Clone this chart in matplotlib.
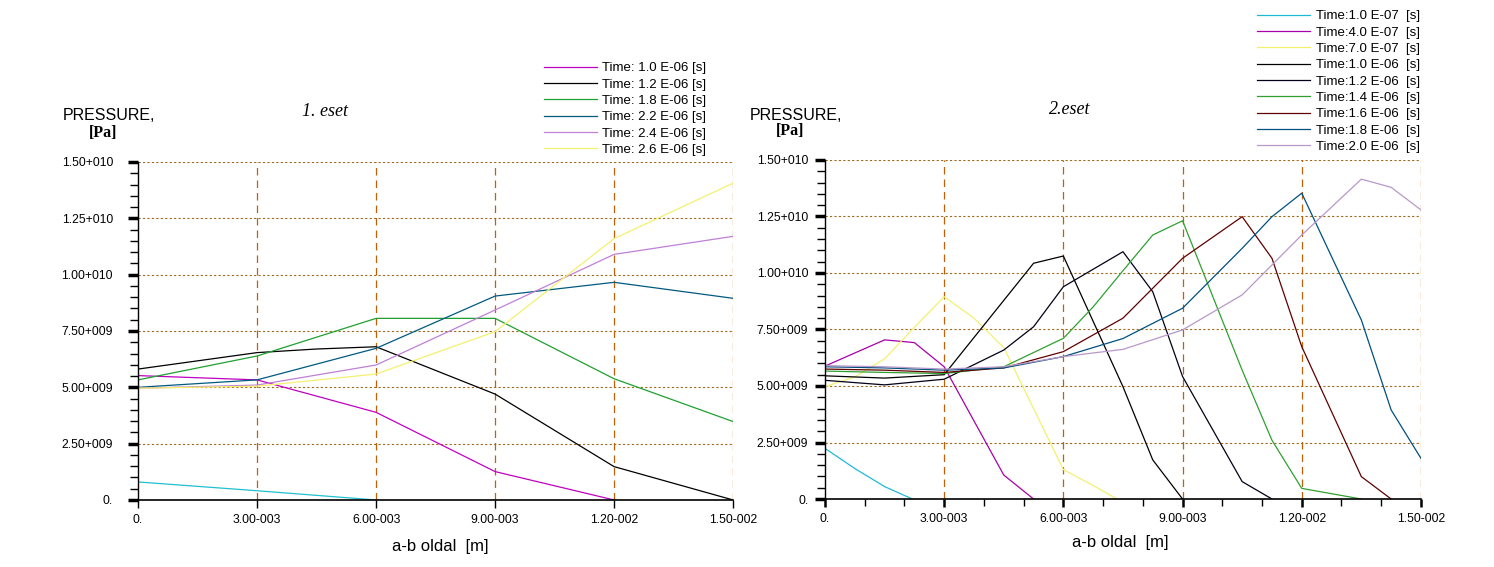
import matplotlib
matplotlib.use('Agg')
from matplotlib import pyplot as plt
from matplotlib.ticker import MultipleLocator, FixedLocator

# ---- data (x in 1e-3 m, pressure in 1e9 Pa) ----
ytick_vals = [0, 2.5e9, 5.0e9, 7.5e9, 1.0e10, 1.25e10, 1.5e10]
ytick_labels = ['0.', '2.50+009', '5.00+009', '7.50+009', '1.00+010', '1.25+010', '1.50+010']
xtick_vals = [0, 3e-3, 6e-3, 9e-3, 12e-3, 15e-3]
xtick_labels = ['0.', '3.00-003', '6.00-003', '9.00-003', '1.20-002', '1.50-002']

# left chart: 1. eset
l_labels = ['Time: 1.0 E-06 [s]', 'Time: 1.2 E-06 [s]', 'Time: 1.8 E-06 [s]',
            'Time: 2.2 E-06 [s]', 'Time: 2.4 E-06 [s]', 'Time: 2.6 E-06 [s]']
l_cyan_x = [0, 3, 6]
l_cyan_y = [0.80, 0.41, 0.0]
l_t10_x = [0, 3, 6, 9, 12]
l_t10_y = [5.52, 5.33, 3.89, 1.26, 0.0]
l_t12_x = [0, 3, 4.5, 6, 9, 12, 15]
l_t12_y = [5.81, 6.54, 6.70, 6.80, 4.70, 1.48, 0.0]
l_x = [0, 3, 6, 9, 12, 15]
l_t18_y = [5.33, 6.39, 8.06, 8.06, 5.38, 3.48]
l_t22_y = [5.00, 5.33, 6.73, 9.05, 9.66, 8.95]
l_t24_y = [4.96, 5.10, 5.99, 8.43, 10.90, 11.70]
l_t26_y = [4.96, 5.05, 5.59, 7.47, 11.60, 14.06]

# right chart: 2.eset
r_labels = ['Time:1.0 E-07  [s]', 'Time:4.0 E-07  [s]', 'Time:7.0 E-07  [s]',
            'Time:1.0 E-06  [s]', 'Time:1.2 E-06  [s]', 'Time:1.4 E-06  [s]',
            'Time:1.6 E-06  [s]', 'Time:1.8 E-06  [s]', 'Time:2.0 E-06  [s]']
r_t01_x = [0, 0.75, 1.5, 2.2]
r_t01_y = [2.24, 1.35, 0.55, 0.0]
r_t04_x = [0, 1.5, 2.25, 3.0, 4.5, 5.25]
r_t04_y = [5.88, 7.04, 6.92, 5.85, 1.06, 0.0]
r_t07_x = [0, 0.75, 1.5, 2.25, 3.0, 3.75, 4.5, 5.25, 6.0, 6.75, 7.35]
r_t07_y = [4.97, 5.40, 6.20, 7.60, 8.95, 8.00, 6.70, 4.00, 1.30, 0.60, 0.0]
r_t10_x = [0, 1.5, 3.0, 5.25, 6.0, 7.5, 8.25, 9.0]
r_t10_y = [5.45, 5.35, 5.50, 10.43, 10.75, 4.97, 1.73, 0.0]
r_t12_x = [0, 1.5, 3.0, 4.5, 5.25, 6.0, 7.5, 8.25, 9.0, 10.5, 11.25]
r_t12_y = [5.25, 5.05, 5.30, 6.59, 7.62, 9.39, 10.94, 9.17, 5.42, 0.77, 0.0]
r_t14_x = [0, 1.5, 3.0, 4.5, 6.0, 6.75, 7.5, 8.25, 9.0, 10.5, 11.25, 12.0, 13.5]
r_t14_y = [5.66, 5.60, 5.55, 5.85, 7.11, 8.50, 10.10, 11.68, 12.31, 5.70, 2.60, 0.47, 0.0]
r_t16_x = [0, 1.5, 3.0, 4.5, 6.0, 7.5, 9.0, 10.5, 11.25, 12.0, 13.5, 14.25]
r_t16_y = [5.75, 5.70, 5.60, 5.80, 6.52, 8.00, 10.65, 12.49, 10.65, 6.74, 0.99, 0.0]
r_t18_x = [0, 1.5, 3.0, 4.5, 6.0, 7.5, 9.0, 10.5, 11.25, 12.0, 13.5, 14.25, 15.0]
r_t18_y = [5.85, 5.80, 5.70, 5.80, 6.30, 7.10, 8.44, 11.09, 12.49, 13.53, 7.92, 3.94, 1.80]
r_t20_x = [0, 1.5, 3.0, 4.5, 6.0, 7.5, 9.0, 10.5, 12.0, 13.5, 14.25, 15.0]
r_t20_y = [5.90, 5.85, 5.75, 5.85, 6.30, 6.62, 7.48, 9.03, 11.68, 14.15, 13.79, 12.79]

sans = ['Liberation Sans', 'DejaVu Sans']


def mm(xs):
    return [v * 1e-3 for v in xs]


def gpa(ys):
    return [v * 1e9 for v in ys]


def style_axes(ax, xminor, ypad):
    for s in ['top', 'right']:
        ax.spines[s].set_visible(False)
    ax.spines['left'].set_linewidth(1.0)
    ax.spines['bottom'].set_linewidth(1.2)
    ax.set_xlim(0, 15e-3)
    ax.set_ylim(0, 1.5e10)
    ax.yaxis.set_major_locator(FixedLocator(ytick_vals))
    ax.set_yticklabels(ytick_labels, family=sans, fontsize=8.7)
    ax.yaxis.set_minor_locator(MultipleLocator(0.5e9))
    ax.xaxis.set_major_locator(FixedLocator(xtick_vals))
    ax.set_xticklabels(xtick_labels, family=sans, fontsize=8.7)
    if xminor:
        ax.xaxis.set_minor_locator(MultipleLocator(1e-3))
    ax.tick_params(axis='y', which='major', length=7, width=2.5, pad=ypad)
    ax.tick_params(axis='y', which='minor', length=6, width=1)
    ax.tick_params(axis='x', which='major', length=6, width=1.8 if xminor else 1, pad=4)
    ax.tick_params(axis='x', which='minor', length=5, width=1)
    ax.grid(False)
    for yv in ytick_vals[1:]:
        ax.axhline(yv, color='#a06a20', lw=0.8, ls=(0, (2, 2)), zorder=0)
    for xv in xtick_vals[1:]:
        ax.axvline(xv, color='#c0600a', lw=0.9, ls=(0, (6, 4)), zorder=0)


fig = plt.figure(figsize=(14.94, 5.67), dpi=100)
ax1 = fig.add_axes([0.0924, 0.1182, 0.3983, 0.5961])
ax2 = fig.add_axes([0.5522, 0.1199, 0.3989, 0.5980])

lw = 0.9
ax1.plot(mm(l_cyan_x), gpa(l_cyan_y), color='#20c0d0', lw=lw)
ax1.plot(mm(l_t10_x), gpa(l_t10_y), color='#c000c0', lw=lw, label=l_labels[0])
ax1.plot(mm(l_t12_x), gpa(l_t12_y), color='black', lw=lw, label=l_labels[1])
ax1.plot(mm(l_x), gpa(l_t18_y), color='#20a030', lw=lw, label=l_labels[2])
ax1.plot(mm(l_x), gpa(l_t22_y), color='#005a80', lw=lw, label=l_labels[3])
ax1.plot(mm(l_x), gpa(l_t24_y), color='#c080d8', lw=lw, label=l_labels[4])
ax1.plot(mm(l_x), gpa(l_t26_y), color='#f4f070', lw=lw, label=l_labels[5])

r_series = [(r_t01_x, r_t01_y, '#20b8d8'), (r_t04_x, r_t04_y, '#a800a8'),
            (r_t07_x, r_t07_y, '#f4f070'), (r_t10_x, r_t10_y, 'black'),
            (r_t12_x, r_t12_y, '#000018'), (r_t14_x, r_t14_y, '#30a030'),
            (r_t16_x, r_t16_y, '#600000'), (r_t18_x, r_t18_y, '#005080'),
            (r_t20_x, r_t20_y, '#b898c8')]
for (xs, ys, c), lab in zip(r_series, r_labels):
    ax2.plot(mm(xs), gpa(ys), color=c, lw=lw, label=lab)

style_axes(ax1, False, 11)
style_axes(ax2, True, 5)

leg_opts = dict(loc='upper left', bbox_transform=fig.transFigure, frameon=False,
                prop={'family': sans, 'size': 9.5}, handlelength=4.0,
                labelspacing=0.31, borderpad=0, borderaxespad=0)
ax1.legend(bbox_to_anchor=(544 / 1494, 1 - 62 / 567), handletextpad=0.4, **leg_opts)
ax2.legend(bbox_to_anchor=(1257 / 1494, 1 - 10 / 567), handletextpad=0.5, **leg_opts)

# y labels and titles
for x0, y0, xb, yb in [(63, 116, 103, 133), (750, 115, 790, 131)]:
    fig.text(x0 / 1494, 1 - y0 / 567, 'PRESSURE,', fontsize=11.5,
             family=sans, va='center', ha='left')
    fig.text(xb / 1494, 1 - yb / 567, '[Pa]', fontsize=11.5, fontweight='bold',
             family='Liberation Serif', va='center', ha='center')

fig.text(325 / 1494, 1 - 112 / 567, '1. eset', fontsize=13, style='italic',
         family='Liberation Serif', ha='center', va='center')
fig.text(1070 / 1494, 1 - 110 / 567, '2.eset', fontsize=13, style='italic',
         family='Liberation Serif', ha='center', va='center')

fig.text(440 / 1494, 1 - 547 / 567, 'a-b oldal  [m]', fontsize=12,
         family=sans, ha='center', va='center')
fig.text(1120 / 1494, 1 - 542 / 567, 'a-b oldal  [m]', fontsize=12,
         family=sans, ha='center', va='center')

fig.savefig('out.png', dpi=100)
